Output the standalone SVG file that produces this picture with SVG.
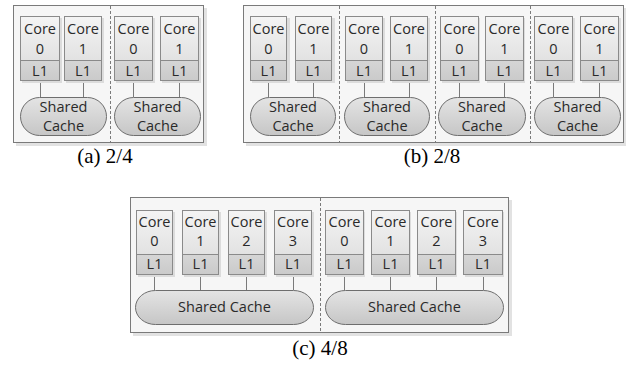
<svg xmlns="http://www.w3.org/2000/svg" width="626" height="369" viewBox="0 0 626 369">
<defs>
<linearGradient id="gCore" x1="0" y1="0" x2="0" y2="1"><stop offset="0" stop-color="#f4f4f4"/><stop offset="1" stop-color="#e2e2e2"/></linearGradient>
<linearGradient id="gL1" x1="0" y1="0" x2="0" y2="1"><stop offset="0" stop-color="#d6d6d6"/><stop offset="1" stop-color="#cacaca"/></linearGradient>
<linearGradient id="gPill" x1="0" y1="0" x2="0" y2="1"><stop offset="0" stop-color="#e4e4e4"/><stop offset="1" stop-color="#c6c6c6"/></linearGradient>
<style>
.panel{fill:#f6f6f6;stroke:#7a7a7a;stroke-width:1}
.pshadow{fill:#e2e2e2}
.div{stroke:#7a7a7a;stroke-width:1;stroke-dasharray:3,2;fill:none}
.core{fill:url(#gCore);stroke:#8a8a8a;stroke-width:1}
.l1{fill:url(#gL1);stroke:#8a8a8a;stroke-width:1}
.sh{fill:#dcdcdc}
.pill{fill:url(#gPill);stroke:#6e6e6e;stroke-width:1}
.conn{stroke:#7a7a7a;stroke-width:1;fill:none}
.t{font-family:"Open Sans","Noto Sans",sans-serif;font-size:14.5px;fill:#2a2a2a;text-anchor:middle}
.cap{font-family:"Liberation Serif","Times New Roman",serif;font-size:21px;fill:#000;text-anchor:middle}
</style>
</defs>

<!-- Panel frames -->
<g id="panel-a">
<rect class="pshadow" x="16" y="8" width="191" height="138"/>
<rect class="panel" x="13.5" y="5.5" width="190" height="137"/>
<line class="div" x1="110.5" y1="6" x2="110.5" y2="142"/>
</g>
<g id="panel-b">
<rect class="pshadow" x="246" y="8" width="380" height="138"/>
<rect class="panel" x="243.5" y="5.5" width="380" height="137"/>
<line class="div" x1="339.5" y1="6" x2="339.5" y2="142"/>
<line class="div" x1="435.5" y1="6" x2="435.5" y2="142"/>
<line class="div" x1="530.5" y1="6" x2="530.5" y2="142"/>
</g>
<g id="panel-c">
<rect class="pshadow" x="133" y="200" width="379" height="136"/>
<rect class="panel" x="130.5" y="197.5" width="378" height="135"/>
<line class="div" x1="320.5" y1="198" x2="320.5" y2="332"/>
</g>

<!-- Connectors -->
<g id="connectors">
<path class="conn" d="M40.5 81V97 M83.5 81V97 M133.5 81V97 M179.5 81V97"/>
<path class="conn" d="M268.5 81V97 M313.5 81V97 M364.5 81V97 M409.5 81V97 M459.5 81V97 M504.5 81V97 M553.5 81V97 M599.5 81V97"/>
<path class="conn" d="M154.5 275V290 M200.5 275V290 M246.5 275V290 M293.5 275V290 M344.5 275V290 M390.5 275V290 M436.5 275V290 M483.5 275V290"/>
</g>

<!-- Panel (a) nodes -->
<g id="a-core0-0"><rect class="sh" x="22" y="18" width="40" height="65"/><rect class="core" x="20.5" y="16.5" width="39" height="44"/><rect class="l1" x="20.5" y="60.5" width="39" height="20"/><text class="t" x="40" y="34">Core</text><text class="t" x="40" y="54">0</text><text class="t" x="40" y="76">L1</text></g>
<g id="a-core0-1"><rect class="sh" x="66" y="18" width="38" height="65"/><rect class="core" x="64.5" y="16.5" width="37" height="44"/><rect class="l1" x="64.5" y="60.5" width="37" height="20"/><text class="t" x="83" y="34">Core</text><text class="t" x="83" y="54">1</text><text class="t" x="83" y="76">L1</text></g>
<g id="a-core1-0"><rect class="sh" x="116" y="18" width="39" height="65"/><rect class="core" x="114.5" y="16.5" width="38" height="44"/><rect class="l1" x="114.5" y="60.5" width="38" height="20"/><text class="t" x="133.5" y="34">Core</text><text class="t" x="133.5" y="54">0</text><text class="t" x="133.5" y="76">L1</text></g>
<g id="a-core1-1"><rect class="sh" x="162" y="18" width="39" height="65"/><rect class="core" x="160.5" y="16.5" width="38" height="44"/><rect class="l1" x="160.5" y="60.5" width="38" height="20"/><text class="t" x="179.5" y="34">Core</text><text class="t" x="179.5" y="54">1</text><text class="t" x="179.5" y="76">L1</text></g>
<g id="a-cache0"><rect class="pill" x="20.5" y="97.5" width="86" height="38" rx="19" ry="19"/><text class="t" x="63.5" y="112">Shared</text><text class="t" x="63.5" y="131">Cache</text></g>
<g id="a-cache1"><rect class="pill" x="114.5" y="97.5" width="86" height="38" rx="19" ry="19"/><text class="t" x="157.5" y="112">Shared</text><text class="t" x="157.5" y="131">Cache</text></g>

<!-- Panel (b) nodes -->
<g id="b-core0-0"><rect class="sh" x="252" y="18" width="38" height="65"/><rect class="core" x="250.5" y="16.5" width="36" height="44"/><rect class="l1" x="250.5" y="60.5" width="36" height="20"/><text class="t" x="268.5" y="34">Core</text><text class="t" x="268.5" y="54">0</text><text class="t" x="268.5" y="76">L1</text></g>
<g id="b-core0-1"><rect class="sh" x="297" y="18" width="38" height="65"/><rect class="core" x="295.5" y="16.5" width="36" height="44"/><rect class="l1" x="295.5" y="60.5" width="36" height="20"/><text class="t" x="313.5" y="34">Core</text><text class="t" x="313.5" y="54">1</text><text class="t" x="313.5" y="76">L1</text></g>
<g id="b-core1-0"><rect class="sh" x="347" y="18" width="38" height="65"/><rect class="core" x="345.5" y="16.5" width="37" height="44"/><rect class="l1" x="345.5" y="60.5" width="37" height="20"/><text class="t" x="364" y="34">Core</text><text class="t" x="364" y="54">0</text><text class="t" x="364" y="76">L1</text></g>
<g id="b-core1-1"><rect class="sh" x="392" y="18" width="38" height="65"/><rect class="core" x="390.5" y="16.5" width="37" height="44"/><rect class="l1" x="390.5" y="60.5" width="37" height="20"/><text class="t" x="409" y="34">Core</text><text class="t" x="409" y="54">1</text><text class="t" x="409" y="76">L1</text></g>
<g id="b-core2-0"><rect class="sh" x="442" y="18" width="38" height="65"/><rect class="core" x="440.5" y="16.5" width="38" height="44"/><rect class="l1" x="440.5" y="60.5" width="38" height="20"/><text class="t" x="459.5" y="34">Core</text><text class="t" x="459.5" y="54">0</text><text class="t" x="459.5" y="76">L1</text></g>
<g id="b-core2-1"><rect class="sh" x="487" y="18" width="38" height="65"/><rect class="core" x="485.5" y="16.5" width="38" height="44"/><rect class="l1" x="485.5" y="60.5" width="38" height="20"/><text class="t" x="504.5" y="34">Core</text><text class="t" x="504.5" y="54">1</text><text class="t" x="504.5" y="76">L1</text></g>
<g id="b-core3-0"><rect class="sh" x="536" y="18" width="39" height="65"/><rect class="core" x="534.5" y="16.5" width="38" height="44"/><rect class="l1" x="534.5" y="60.5" width="38" height="20"/><text class="t" x="553.5" y="34">Core</text><text class="t" x="553.5" y="54">0</text><text class="t" x="553.5" y="76">L1</text></g>
<g id="b-core3-1"><rect class="sh" x="582" y="18" width="39" height="65"/><rect class="core" x="580.5" y="16.5" width="38" height="44"/><rect class="l1" x="580.5" y="60.5" width="38" height="20"/><text class="t" x="599.5" y="34">Core</text><text class="t" x="599.5" y="54">1</text><text class="t" x="599.5" y="76">L1</text></g>
<g id="b-cache0"><rect class="pill" x="250.5" y="97.5" width="85" height="38" rx="19" ry="19"/><text class="t" x="293" y="112">Shared</text><text class="t" x="293" y="131">Cache</text></g>
<g id="b-cache1"><rect class="pill" x="344.5" y="97.5" width="85" height="38" rx="19" ry="19"/><text class="t" x="387" y="112">Shared</text><text class="t" x="387" y="131">Cache</text></g>
<g id="b-cache2"><rect class="pill" x="438.5" y="97.5" width="87" height="38" rx="19" ry="19"/><text class="t" x="482" y="112">Shared</text><text class="t" x="482" y="131">Cache</text></g>
<g id="b-cache3"><rect class="pill" x="534.5" y="97.5" width="86" height="38" rx="19" ry="19"/><text class="t" x="577.5" y="112">Shared</text><text class="t" x="577.5" y="131">Cache</text></g>

<!-- Panel (c) nodes -->
<g id="c-core0-0"><rect class="sh" x="138" y="212" width="37" height="65"/><rect class="core" x="136.5" y="210.5" width="36" height="44"/><rect class="l1" x="136.5" y="254.5" width="36" height="20"/><text class="t" x="154.5" y="227">Core</text><text class="t" x="154.5" y="246">0</text><text class="t" x="154.5" y="269">L1</text></g>
<g id="c-core0-1"><rect class="sh" x="184" y="212" width="37" height="65"/><rect class="core" x="182.5" y="210.5" width="36" height="44"/><rect class="l1" x="182.5" y="254.5" width="36" height="20"/><text class="t" x="200.5" y="227">Core</text><text class="t" x="200.5" y="246">1</text><text class="t" x="200.5" y="269">L1</text></g>
<g id="c-core0-2"><rect class="sh" x="230" y="212" width="37" height="65"/><rect class="core" x="228.5" y="210.5" width="36" height="44"/><rect class="l1" x="228.5" y="254.5" width="36" height="20"/><text class="t" x="246.5" y="227">Core</text><text class="t" x="246.5" y="246">2</text><text class="t" x="246.5" y="269">L1</text></g>
<g id="c-core0-3"><rect class="sh" x="276" y="212" width="38" height="65"/><rect class="core" x="274.5" y="210.5" width="37" height="44"/><rect class="l1" x="274.5" y="254.5" width="37" height="20"/><text class="t" x="293" y="227">Core</text><text class="t" x="293" y="246">3</text><text class="t" x="293" y="269">L1</text></g>
<g id="c-core1-0"><rect class="sh" x="327" y="212" width="38" height="65"/><rect class="core" x="325.5" y="210.5" width="38" height="44"/><rect class="l1" x="325.5" y="254.5" width="38" height="20"/><text class="t" x="344.5" y="227">Core</text><text class="t" x="344.5" y="246">0</text><text class="t" x="344.5" y="269">L1</text></g>
<g id="c-core1-1"><rect class="sh" x="373" y="212" width="38" height="65"/><rect class="core" x="371.5" y="210.5" width="38" height="44"/><rect class="l1" x="371.5" y="254.5" width="38" height="20"/><text class="t" x="390.5" y="227">Core</text><text class="t" x="390.5" y="246">1</text><text class="t" x="390.5" y="269">L1</text></g>
<g id="c-core1-2"><rect class="sh" x="419" y="212" width="38" height="65"/><rect class="core" x="417.5" y="210.5" width="38" height="44"/><rect class="l1" x="417.5" y="254.5" width="38" height="20"/><text class="t" x="436.5" y="227">Core</text><text class="t" x="436.5" y="246">2</text><text class="t" x="436.5" y="269">L1</text></g>
<g id="c-core1-3"><rect class="sh" x="465" y="212" width="39" height="65"/><rect class="core" x="463.5" y="210.5" width="39" height="44"/><rect class="l1" x="463.5" y="254.5" width="39" height="20"/><text class="t" x="483" y="227">Core</text><text class="t" x="483" y="246">3</text><text class="t" x="483" y="269">L1</text></g>
<g id="c-cache0"><rect class="pill" x="135.5" y="290.5" width="178" height="34" rx="20" ry="17"/><text class="t" x="224.5" y="312">Shared Cache</text></g>
<g id="c-cache1"><rect class="pill" x="325.5" y="290.5" width="178" height="34" rx="20" ry="17"/><text class="t" x="414.5" y="312">Shared Cache</text></g>

<!-- Captions -->
<text class="cap" x="105" y="163">(a) 2/4</text>
<text class="cap" x="432" y="163">(b) 2/8</text>
<text class="cap" x="320" y="355">(c) 4/8</text>
</svg>
